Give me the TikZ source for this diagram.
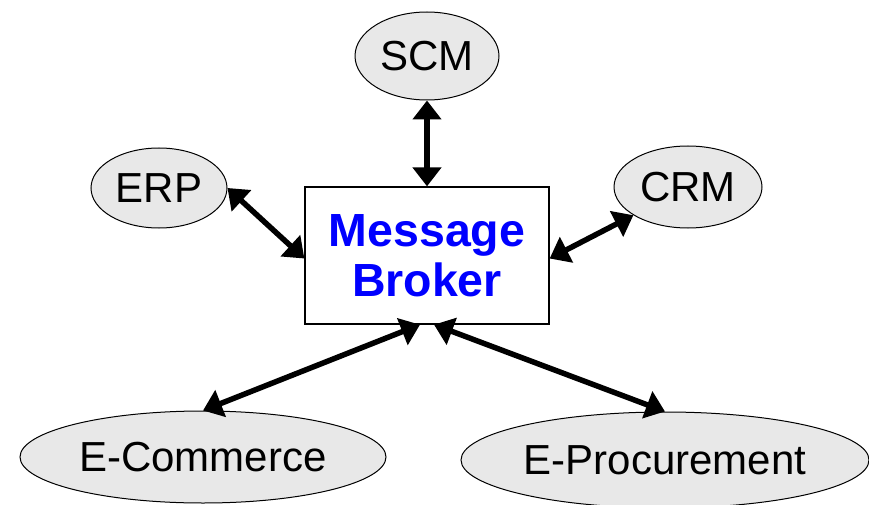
\documentclass[tikz,border=0pt]{standalone}
\usepackage{fontspec}
\setmainfont{Liberation Sans}
\usetikzlibrary{shapes.geometric,arrows.meta}
\begin{document}
\begin{tikzpicture}[x=1pt,y=-1pt,
    sys/.style={ellipse,draw,line width=1pt,fill=gray!18,inner sep=0pt,font=\fontsize{42}{46}\selectfont},
    link/.style={{Triangle[length=19pt,width=28pt]}-{Triangle[length=19pt,width=28pt]},line width=5.5pt}]
    \useasboundingbox (0,0) rectangle (869,505);

    % broker
    \node(box)[draw,line width=1.3pt,minimum width=244pt,minimum height=137pt,align=center,
        text=blue,font=\fontsize{46.5}{50}\selectfont\bfseries] at (427,255.5) {Message\\Broker};

    % systems
    \node(scm)[sys,minimum width=144pt,minimum height=88pt] at (427,56) {SCM};
    \node(erp)[sys,minimum width=136pt,minimum height=80pt] at (159,188) {ERP};
    \node(crm)[sys,minimum width=148pt,minimum height=82pt] at (688,187) {CRM};
    \node(ecom)[sys,minimum width=366pt,minimum height=92pt] at (203,457) {E-Commerce};
    \node(eproc)[sys,minimum width=408pt,minimum height=96pt] at (665,460) {E-Procurement};

    % links
    \draw[link] (scm.south)--(box.north);
    \draw[link] (erp.east)--([yshift=-3pt]box.west);
    \draw[link] ([yshift=-3pt]box.east)--(crm);
    \draw[link] ([xshift=-7pt]box.south)--(ecom.north);
    \draw[link] ([xshift=7pt]box.south)--(eproc.north);
\end{tikzpicture}
\end{document}
